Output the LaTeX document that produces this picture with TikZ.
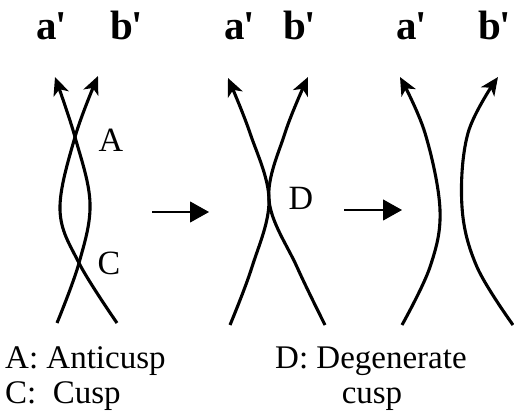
\documentclass[tikz,border=0pt]{standalone}
\usepackage{fontspec}
\setmainfont{Liberation Serif}
\usetikzlibrary{arrows.meta}
\newcommand{\pr}{\kern-1.5pt\makebox[0.14em][l]{\textquotesingle}}
\begin{document}
\begin{tikzpicture}[x=1pt,y=-1pt,
  strand/.style={line width=3.1pt,-{Stealth[length=18pt,width=16pt,inset=5pt]}},
  shift arrow/.style={line width=1.1pt,-{Triangle[length=19pt,width=21pt]}},
  toplabel/.style={anchor=base west,inner sep=0pt,font=\fontsize{41}{41}\selectfont\bfseries},
  ptlabel/.style={inner sep=0pt,font=\fontsize{34}{34}\selectfont},
  caption/.style={anchor=base west,inner sep=0pt,font=\fontsize{33}{33}\selectfont}]
\useasboundingbox (0,0) rectangle (514,419);
% top labels
\node[toplabel] (a1) at (36,40) {a\pr};
\node[toplabel] (b1) at (110,40) {b\pr};
\node[toplabel] (a2) at (224,40) {a\pr};
\node[toplabel] (b2) at (283,40) {b\pr};
\node[toplabel] (a3) at (396,40) {a\pr};
\node[toplabel] (b3) at (478,40) {b\pr};
% panel 1
\coordinate (A) at (75,137);
\coordinate (C) at (79,263);
\draw[strand] plot[smooth,tension=0.6] coordinates {(57,323) (C) (90,203) (A) (55,77)};
\draw[strand] plot[smooth,tension=0.6] coordinates {(117,323) (C) (60,210) (A) (98,76)};
\node[ptlabel] (lA) at (111,140) {A};
\node[ptlabel] (lC) at (109,263) {C};
% arrow 1
\coordinate (s1) at (152,212);
\coordinate (e1) at (209,212);
\draw[shift arrow] (s1) -- (e1);
% panel 2
\coordinate (D) at (269,200);
\draw[strand] plot[smooth,tension=0.6] coordinates {(230,325) (252,267) (D) (250,133) (228,78)};
\draw[strand] plot[smooth,tension=0.6] coordinates {(325,325) (297,267) (D) (285,133) (308,77)};
\node[ptlabel] (lD) at (301,198) {D};
% arrow 2
\coordinate (s2) at (344,210);
\coordinate (e2) at (402,210);
\draw[shift arrow] (s2) -- (e2);
% panel 3
\draw[strand] plot[smooth,tension=0.6] coordinates {(402,325) (430,267) (440,210) (425,133) (400,77)};
\draw[strand] plot[smooth,tension=0.6] coordinates {(513,325) (477,267) (462,207) (468,133) (498,77)};
% captions
\node[caption] (cA) at (5,369) {A: Anticusp};
\node[caption] (cC) at (5,403) {C:\ \ Cusp};
\node[caption] (cD) at (275,369) {D: Degenerate};
\node[caption,anchor=base] (cDt) at (372,403) {cusp};
\end{tikzpicture}
\end{document}
